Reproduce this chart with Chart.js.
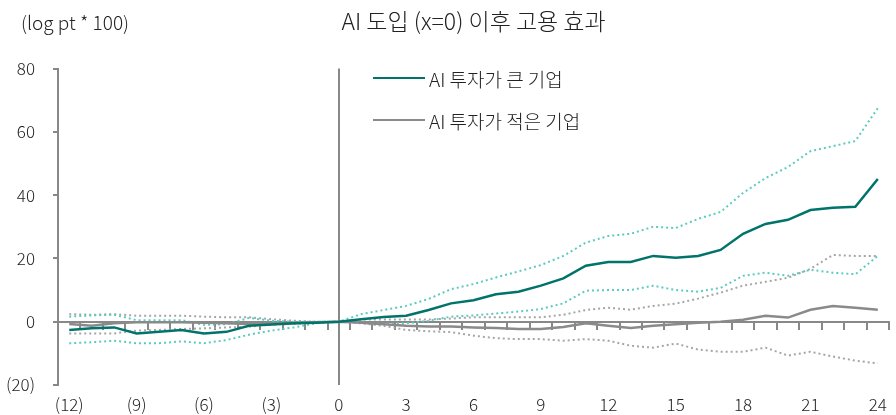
<!DOCTYPE html>
<html>
<head>
<meta charset="utf-8">
<script src="https://cdn.jsdelivr.net/npm/chart.js@4"></script>
<style>
    body { margin: 0; background: #fff; font-family: 'Noto Sans CJK KR', 'Noto Sans', sans-serif; }
    #wrap { position: relative; width: 896px; height: 415px; }
    #unit { position: absolute; left: 21px; top: 8px; font-size: 19px; font-weight: 300; color: #222; }
    #legend { position: absolute; left: 373px; top: 57px; font-size: 19px; font-weight: 300; color: #222; }
    #legend .item { display: flex; align-items: center; height: 42px; }
    #legend .ln { display: inline-block; width: 52px; border-top: 2.5px solid; margin-right: 4px; }
</style>
</head>
<body>
<div id="wrap">
    <canvas id="lineChart"></canvas>
    <div id="unit"></div>
    <div id="legend"></div>
</div>
<script>
const titleText = 'AI 도입 (x=0) 이후 고용 효과';
const unitText = '(log pt * 100)';
const eventX = 0;

const months = [-12, -11, -10, -9, -8, -7, -6, -5, -4, -3, -2, -1, 0,
    1, 2, 3, 4, 5, 6, 7, 8, 9, 10, 11, 12, 13, 14, 15, 16, 17, 18, 19, 20, 21, 22, 23, 24];

// AI 투자가 큰 기업: 추정치와 신뢰구간
const bigEst = [-2.6, -2.1, -1.8, -3.7, -3.2, -2.6, -3.7, -3.2, -1.3, -0.9, -0.5, -0.3, 0,
    0.8, 1.5, 1.9, 3.7, 5.8, 6.8, 8.7, 9.5, 11.4, 13.7, 17.7, 18.9, 18.9, 20.8, 20.2, 20.8, 22.7, 27.8, 30.9, 32.2, 35.3, 36.0, 36.3, 45.1];
const bigHigh = [1.6, 2.0, 2.2, 0.5, 0.5, 0.5, -1.0, -0.8, 1.2, 0.3, 0.0, 0.0, 0,
    2.4, 3.7, 5.0, 7.2, 10.3, 11.9, 14.0, 15.9, 17.9, 20.8, 25.0, 27.1, 27.8, 30.0, 29.6, 32.5, 34.7, 40.7, 45.4, 48.9, 53.9, 55.5, 57.1, 67.5];
const bigLow = [-6.8, -6.5, -6.0, -6.8, -6.8, -6.2, -6.8, -5.8, -4.1, -2.8, -1.8, -0.5, 0,
    -0.2, -0.7, -0.5, 0.3, 1.6, 2.0, 2.6, 3.2, 4.0, 5.8, 9.8, 10.0, 10.0, 11.4, 10.0, 9.5, 10.7, 14.5, 15.5, 14.5, 16.4, 15.5, 15.0, 20.8];

// AI 투자가 적은 기업
const smallEst = [-0.7, -1.3, -0.5, -0.2, -0.2, -0.2, -0.3, -0.5, -0.7, -0.7, -0.5, -0.2, 0,
    -0.3, -0.8, -1.3, -1.5, -1.5, -1.8, -2.0, -2.3, -2.3, -1.7, -0.5, -1.3, -2.0, -1.3, -0.8, -0.3, 0.0, 0.6, 1.9, 1.3, 3.8, 5.0, 4.4, 3.8];
const smallHigh = [2.4, 2.2, 2.4, 1.9, 1.9, 1.9, 1.6, 1.4, 1.4, 0.8, 0.3, 0.0, 0,
    0.7, 0.7, 0.7, 0.7, 1.0, 1.4, 1.4, 1.4, 1.4, 2.2, 3.7, 4.4, 3.8, 5.0, 5.7, 7.3, 9.2, 11.4, 12.6, 13.9, 16.7, 21.1, 20.8, 20.8];
const smallLow = [-3.7, -3.7, -3.7, -2.8, -2.6, -2.3, -2.1, -1.8, -1.6, -0.9, -0.7, -0.3, 0,
    -0.5, -1.3, -2.6, -3.0, -3.3, -4.4, -5.2, -5.5, -5.5, -6.0, -5.5, -6.0, -7.6, -8.2, -6.9, -8.8, -9.5, -9.5, -8.2, -10.7, -9.5, -11.0, -12.3, -13.2];

const seriesNames = ['AI 투자가 큰 기업', 'AI 투자가 적은 기업'];

const tealDark = '#00736b';
const tealLight = '#5ccbbf';
const grayDark = '#8a8a8a';
const grayLight = '#a6a6a6';
const axisColor = '#888888';
const textColor = '#222222';

Chart.defaults.font.family = "'Noto Sans CJK KR', 'Noto Sans', sans-serif";
Chart.defaults.font.size = 17;
Chart.defaults.font.weight = '300';
Chart.defaults.color = textColor;

const fmt = v => v < 0 ? '(' + (-v) + ')' : String(v);

const mainLine = (label, data, color) => ({
    label: label,
    data: data,
    xAxisID: 'x',
    borderColor: color,
    backgroundColor: color,
    borderWidth: 2.5,
    pointRadius: 0,
    tension: 0,
    inLegend: true,
});

const bandLine = (label, data, color) => ({
    label: label,
    data: data,
    xAxisID: 'x',
    borderColor: color,
    borderWidth: 2,
    borderDash: [2, 3],
    pointRadius: 0,
    tension: 0,
    inLegend: false,
});

const datasets = [
    mainLine(seriesNames[0], bigEst, tealDark),
    mainLine(seriesNames[1], smallEst, grayDark),
    bandLine('upper big', bigHigh, tealLight),
    bandLine('lower big', bigLow, tealLight),
    bandLine('upper small', smallHigh, grayLight),
    bandLine('lower small', smallLow, grayLight),
];

const lineChart = document.getElementById('lineChart');

new Chart(lineChart, {
    type: 'line',
    data: {
        labels: months,
        datasets: datasets,
    },
    options: {
        responsive: true,
        maintainAspectRatio: false,
        animation: false,
        layout: {
            padding: {
                left: 3,
                right: 6,
                top: 0,
                bottom: 0,
            }
        },
        plugins: {
            legend: { display: false },
            tooltip: { enabled: false },
            title: {
                display: true,
                text: titleText,
                fullSize: false,
                color: textColor,
                font: { size: 23, weight: '300' },
                padding: { top: 7, bottom: 34 },
            },
        },
        scales: {
            x: {
                type: 'category',
                position: 'bottom',
                offset: true,
                border: { display: false },
                grid: {
                    offset: false,
                    drawTicks: false,
                    lineWidth: 2,
                    color: ctx => months[ctx.index] === eventX ? axisColor : 'transparent',
                },
                ticks: {
                    autoSkip: false,
                    maxRotation: 0,
                    padding: 9,
                    color: textColor,
                    callback: function (value) {
                        const m = Number(this.getLabelForValue(value));
                        return m % 3 === 0 ? fmt(m) : '';
                    },
                },
                afterFit: s => { s.height = 30; },
            },
            x0: {
                type: 'category',
                position: { y: 0 },
                offset: true,
                border: { color: axisColor, width: 2 },
                grid: {
                    offset: true,
                    drawOnChartArea: false,
                    tickLength: 7,
                    color: axisColor,
                    lineWidth: 2,
                },
                ticks: { display: false },
                afterFit: s => { s.height = 0; },
            },
            y: {
                min: -20,
                max: 80,
                border: { color: axisColor, width: 2 },
                grid: {
                    drawOnChartArea: false,
                    tickLength: 5,
                    color: axisColor,
                    lineWidth: 2,
                },
                ticks: {
                    stepSize: 20,
                    padding: 18,
                    color: textColor,
                    callback: v => fmt(v),
                },
                afterFit: s => { s.width = 55; },
            },
        },
    },
});

document.getElementById('unit').textContent = unitText;

const legend = document.getElementById('legend');
datasets.filter(d => d.inLegend).forEach(d => {
    const item = document.createElement('div');
    item.className = 'item';
    const ln = document.createElement('span');
    ln.className = 'ln';
    ln.style.borderTopColor = d.borderColor;
    const txt = document.createElement('span');
    txt.textContent = d.label;
    item.appendChild(ln);
    item.appendChild(txt);
    legend.appendChild(item);
});
</script>
</body>
</html>
